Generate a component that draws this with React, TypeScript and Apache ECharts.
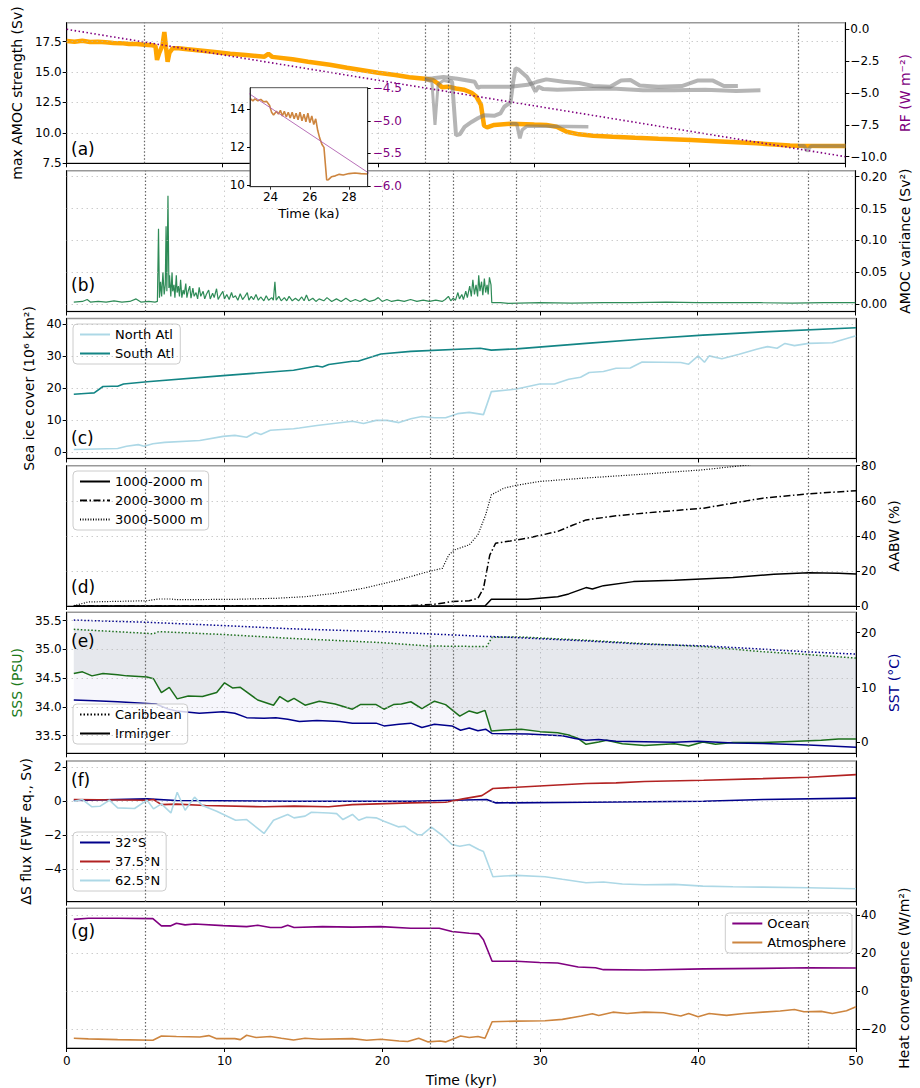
import React, { useEffect, useRef } from "react";
import * as echarts from "echarts";

// ---------------- DATA ----------------
const xTickValues = [0, 10, 20, 30, 40, 50];
const eventLines = [5, 23, 24.5, 28.5, 47];

// (a) AMOC strength (Sv)
const amocMain = [[0,17.55],[0.5,17.5],[1,17.58],[1.5,17.48],[2,17.5],[2.5,17.45],[3,17.4],[3.5,17.38],[4,17.3],[4.5,17.3],[5,17.25],[5.5,17.2],[5.7,17.15],[5.8,16.0],[5.95,16.6],[6.15,17.2],[6.27,18.3],[6.38,17.0],[6.48,15.85],[6.6,16.6],[6.8,16.95],[7.2,16.95],[7.6,16.9],[8.4,16.8],[9.5,16.65],[10.5,16.5],[11.5,16.4],[12.7,16.27],[12.95,16.5],[13.2,16.25],[14.5,16.05],[15.5,15.85],[16.9,15.6],[18,15.35],[19,15.15],[20,14.95],[21.1,14.76],[22,14.58],[23,14.45],[23.5,14.35],[23.8,14.1],[24.1,13.75],[24.5,13.8],[25,13.65],[25.5,13.55],[26,13.3],[26.3,13.0],[26.6,12.3],[26.8,10.6],[27.0,10.45],[27.45,10.65],[28.5,10.75],[30.0,10.68],[30.8,10.65],[31.46,10.5],[32.1,10.1],[32.9,9.88],[33.8,9.77],[35.05,9.69],[36.5,9.6],[38,9.52],[40.1,9.42],[42,9.3],[44.3,9.14],[46.45,8.97],[47,8.95],[48.5,8.93],[50,8.92]];
const grayA = [[23.0,14.45],[23.5,14.5],[24.2,14.6],[25.1,14.45],[26.2,14.2],[26.4,13.7],[26.6,13.8],[28.5,13.8],[29.6,13.95],[30.2,14.2],[30.8,14.4],[31.9,14.2],[32.9,14.1],[33.8,13.85],[34.9,13.8],[35.6,14.3],[36.2,14.35],[36.8,13.9],[38,13.8],[39.5,13.85],[40.5,14.3],[41.5,14.3],[42.2,13.85],[43.1,13.85]];
const grayB = [[23.0,14.4],[23.45,14.2],[23.65,10.65],[23.85,14.0],[24.2,14.3],[24.6,14.2]];
const grayC = [[24.5,14.3],[24.75,14.2],[25.0,9.8],[25.25,9.9],[25.55,10.5],[26.0,10.9],[26.4,11.2],[26.8,11.45],[27.45,11.4],[27.85,11.6],[28.1,12.15],[28.5,12.5],[28.67,14.2],[28.82,15.3],[29.03,15.2],[29.56,14.6],[29.87,13.95],[30.1,13.4],[30.3,13.8],[30.6,13.6],[31.5,13.55],[33,13.6],[35,13.65],[37,13.5],[39,13.5],[41,13.55],[43,13.45],[44.55,13.5]];
const grayD = [[28.5,10.75],[28.9,10.75],[29.1,9.55],[29.25,10.25],[29.56,10.55],[30.8,10.55],[33.5,10.5]];
const grayE = [[47,8.95],[47.35,8.95],[47.55,8.5],[47.8,8.92],[50,8.92]];
const rfLine = [[0,0],[50,-10]];
// inset (23-29 ka)
const amocInset = [[22.95,14.58],[23.1,14.45],[23.2,14.55],[23.35,14.45],[23.5,14.52],[23.65,14.4],[23.8,14.42],[23.95,14.2],[24.05,13.85],[24.15,13.7],[24.3,13.9],[24.4,13.75],[24.5,13.95],[24.6,13.65],[24.7,13.9],[24.8,13.6],[24.9,13.85],[25.0,13.55],[25.1,13.85],[25.2,13.5],[25.3,13.8],[25.4,13.45],[25.5,13.85],[25.6,13.4],[25.7,13.75],[25.8,13.35],[25.9,13.8],[26.0,13.3],[26.1,13.65],[26.2,13.2],[26.3,13.5],[26.4,12.9],[26.5,12.5],[26.62,12.15],[26.72,12.0],[26.86,10.28],[26.95,10.3],[27.1,10.45],[27.3,10.5],[27.5,10.58],[27.7,10.55],[28.0,10.62],[28.3,10.65],[28.6,10.62],[28.95,10.6]];

// (b) AMOC variance (Sv^2)
const amocVar = [[0.45,0.003],[1.0,0.004],[1.3,0.007],[1.5,0.003],[2.0,0.004],[2.5,0.003],[3.0,0.005],[3.5,0.003],[4.0,0.004],[4.4,0.008],[4.7,0.003],[5.2,0.004],[5.6,0.003],[5.75,0.004],[5.82,0.118],[5.88,0.01],[5.95,0.035],[6.02,0.012],[6.1,0.05],[6.18,0.015],[6.25,0.03],[6.3,0.122],[6.35,0.02],[6.42,0.17],[6.48,0.025],[6.52,0.045],[6.6,0.012],[6.68,0.05],[6.72,0.02],[6.8,0.03],[6.86,0.01],[6.95,0.045],[7.0,0.018],[7.08,0.028],[7.15,0.012],[7.22,0.038],[7.3,0.01],[7.38,0.022],[7.45,0.015],[7.55,0.032],[7.62,0.01],[7.7,0.02],[7.8,0.028],[7.88,0.009],[8.0,0.025],[8.08,0.012],[8.2,0.018],[8.3,0.008],[8.4,0.026],[8.5,0.012],[8.65,0.02],[8.75,0.008],[8.85,0.015],[9.0,0.022],[9.1,0.008],[9.25,0.017],[9.35,0.01],[9.5,0.024],[9.6,0.007],[9.75,0.014],[9.9,0.02],[10.0,0.008],[10.15,0.015],[10.3,0.007],[10.45,0.018],[10.55,0.01],[10.7,0.013],[10.85,0.006],[11.0,0.016],[11.15,0.007],[11.3,0.012],[11.45,0.018],[11.55,0.006],[11.7,0.012],[11.85,0.007],[12.0,0.015],[12.15,0.006],[12.3,0.011],[12.5,0.005],[12.65,0.013],[12.8,0.006],[13.0,0.01],[13.1,0.006],[13.2,0.035],[13.28,0.006],[13.45,0.012],[13.6,0.005],[13.8,0.01],[13.95,0.005],[14.1,0.012],[14.3,0.005],[14.5,0.009],[14.7,0.005],[14.9,0.011],[15.05,0.005],[15.2,0.014],[15.35,0.005],[15.6,0.009],[15.8,0.004],[16.0,0.008],[16.3,0.005],[16.5,0.01],[16.8,0.004],[17.1,0.008],[17.4,0.004],[17.7,0.009],[18.0,0.004],[18.3,0.007],[18.6,0.004],[18.9,0.008],[19.2,0.004],[19.5,0.006],[19.75,0.01],[20.0,0.004],[20.3,0.007],[20.6,0.004],[21.0,0.006],[21.4,0.004],[21.8,0.007],[22.2,0.004],[22.6,0.006],[23.0,0.004],[23.4,0.006],[23.8,0.004],[24.0,0.007],[24.2,0.012],[24.35,0.005],[24.5,0.009],[24.65,0.006],[24.8,0.018],[24.9,0.008],[25.05,0.015],[25.15,0.007],[25.3,0.02],[25.4,0.01],[25.55,0.028],[25.65,0.012],[25.75,0.038],[25.85,0.015],[25.95,0.03],[26.05,0.012],[26.12,0.045],[26.2,0.02],[26.3,0.035],[26.38,0.014],[26.48,0.04],[26.56,0.018],[26.65,0.03],[26.72,0.015],[26.8,0.042],[26.9,0.03],[26.95,0.002],[27.5,0.002],[28,0.001],[30,0.002],[32,0.0015],[34,0.002],[36,0.002],[38,0.003],[40,0.002],[42,0.002],[44,0.002],[46,0.0015],[48,0.002],[50,0.002]];

// (c) Sea ice cover (10^6 km^2)
const iceNorth = [[0.45,0.8],[3.23,1.1],[3.79,1.8],[4.53,2.3],[4.9,1.8],[5.46,2.6],[6.2,3.0],[8.43,3.6],[9.91,4.9],[10.65,5.2],[11.4,4.6],[11.95,6.1],[12.3,5.5],[12.9,6.8],[14.37,7.3],[14.74,7.5],[15.85,8.3],[18.1,9.6],[18.8,8.9],[19.6,9.9],[20.3,9.9],[21.05,9.2],[21.8,10.4],[22.5,11.1],[23.3,10.7],[24.0,10.7],[24.76,12.0],[25.5,12.4],[26.4,11.7],[26.9,18.9],[28.5,19.7],[29.96,21.3],[30.9,21.3],[31.8,22.8],[32.55,23.4],[33.1,24.9],[34.0,25.2],[34.8,26.2],[35.7,26.3],[36.45,28.2],[38.9,28.0],[39.4,27.5],[40.0,30.1],[40.4,28.1],[40.7,30.1],[41.5,29.2],[42.6,30.6],[43.7,32.2],[44.4,33.0],[45.0,32.5],[45.5,34.0],[46.1,33.3],[47.0,34.0],[48.5,34.2],[50,36.4]];
const iceSouth = [[0.45,18.1],[1.37,18.4],[1.74,18.5],[2.3,20.5],[2.86,20.6],[3.23,20.6],[3.6,21.3],[5.09,22.0],[9.91,23.9],[14.37,25.6],[15.85,26.9],[16.2,26.6],[16.6,27.4],[18.1,28.4],[18.45,28.4],[19.9,30.7],[21.8,31.5],[26.2,32.5],[26.9,31.9],[28.5,32.3],[32.9,34.0],[36.6,35.4],[40.3,36.6],[44.1,37.6],[50,38.9]];

// (d) AABW (%)
const aabw1 = [[0.45,0],[26.5,0],[26.9,3.8],[29.2,3.8],[31.1,5.3],[31.8,6.9],[32.9,10.5],[33.3,9.7],[34.0,11.6],[35.9,13.9],[38.5,14.7],[42.2,16.2],[44.8,18.1],[47,18.9],[48.9,18.7],[50,18.3]];
const aabw2 = [[0.45,0],[21.8,0.2],[23.3,1.0],[24.4,2.5],[25.5,3.0],[26.05,4.4],[26.4,10],[26.8,29],[27.17,35.8],[28.1,37.1],[29.2,38.7],[31.1,42.5],[32.0,45.9],[32.9,49.1],[34.8,51.4],[36.6,53],[40.35,55.8],[44.1,61.5],[47.0,64],[50,65.7]];
const aabw3 = [[0.45,0.2],[1.37,2.3],[5.09,3.0],[5.83,4.0],[6.6,4.0],[6.95,3.6],[10.65,3.8],[13.25,4.4],[15.1,5.3],[16.96,7.2],[18.8,10.1],[21.05,14.9],[22.9,19.6],[23.8,21.5],[24.2,29.1],[24.57,32.0],[25.5,34.9],[26.05,40.6],[26.54,52],[26.9,63.4],[27.7,67.2],[28.47,68.8],[29.96,71],[31.4,72],[32.9,73],[36.6,75.2],[40.35,77.7],[42.95,80.2],[44.5,82],[47,84],[50,86]];

// (e) SSS (PSU) and SST (degC)
const sssCarib = [[0.45,35.35],[5.09,35.28],[5.46,35.27],[5.83,35.31],[9.91,35.26],[14.37,35.19],[19.9,35.12],[22.9,35.06],[26.6,35.05],[26.95,35.21],[28.5,35.22],[32.9,35.16],[36.6,35.1],[40.35,35.05],[44.1,34.96],[47,34.91],[50,34.85]];
const sstCarib = [[0.45,22.3],[5.09,21.9],[9.91,21.3],[14.37,20.7],[19.9,20.2],[23.65,19.7],[26.6,19.3],[26.95,19.3],[28.5,19.1],[32.9,18.5],[36.6,17.9],[40.35,17.6],[44.1,17.0],[47,16.5],[50,16.1]];
const sssIrm = [[0.45,34.58],[1.0,34.61],[1.6,34.54],[2.3,34.58],[3.23,34.56],[3.8,34.54],[5.09,34.52],[5.5,34.49],[6.0,34.25],[6.5,34.34],[7.0,34.14],[7.7,34.19],[8.6,34.18],[9.5,34.25],[10.0,34.42],[10.5,34.33],[11.0,34.34],[12.1,34.12],[13.1,34.03],[13.5,34.18],[14.0,34.09],[14.4,34.15],[15.1,34.03],[16.0,34.1],[17.0,34.05],[18.1,33.96],[18.6,34.04],[19.6,34.04],[20.1,33.96],[20.7,34.04],[21.2,34.05],[21.8,34.09],[22.5,33.97],[23.3,34.1],[24.0,34.04],[24.9,33.84],[25.5,33.93],[26.0,33.89],[26.5,33.94],[26.9,33.58],[27.7,33.6],[28.8,33.61],[30.0,33.57],[31.1,33.55],[31.8,33.51],[32.4,33.45],[32.9,33.35],[33.7,33.39],[34.2,33.42],[35.2,33.36],[36.6,33.33],[38.5,33.36],[39.4,33.32],[40.3,33.39],[41.1,33.35],[42.2,33.38],[44.1,33.38],[45.9,33.4],[47.8,33.42],[48.9,33.44],[50,33.44]];
const sstIrm = [[0.45,7.7],[1.75,7.6],[3.23,7.4],[5.09,7.1],[5.65,7.0],[6.4,6.1],[6.95,5.7],[8.4,5.3],[9.91,5.6],[10.65,5.3],[11.4,4.5],[12.5,4.4],[13.25,4.5],[14.0,4.2],[14.74,3.8],[15.85,4.0],[17.3,3.8],[18.1,3.5],[19.6,3.5],[20.1,3.0],[21.05,3.3],[21.8,3.5],[22.5,2.7],[23.3,3.3],[24.4,3.0],[24.95,2.2],[25.5,2.6],[26.05,2.1],[26.54,2.4],[26.95,1.6],[29.2,1.5],[31.4,1.2],[32.2,0.7],[32.9,0.4],[33.7,0.5],[34.8,0.2],[36.6,0.1],[38.5,0.0],[40,0.2],[42.2,-0.1],[44.1,-0.2],[47,-0.5],[50,-0.9]];

// (f) Delta S flux (FWF eq., Sv)
const flux32S = [[0.45,0.04],[5.09,0.14],[6.95,0.04],[14.37,0],[21.8,0],[26.6,0.1],[27.2,-0.1],[32.9,-0.06],[40.35,0],[44.1,0.1],[50,0.18]];
const flux375N = [[0.45,0.1],[5.09,0.06],[5.5,0.1],[6.0,-0.2],[6.95,-0.17],[8.8,-0.25],[12.5,-0.33],[14.4,-0.29],[16.6,-0.33],[18.1,-0.2],[21.8,-0.1],[24.0,-0.06],[25.1,0.14],[26.3,0.33],[27.0,0.75],[28.5,0.82],[31.1,0.96],[32.9,1.04],[34.8,1.08],[36.6,1.16],[40.35,1.24],[44.1,1.33],[47,1.41],[50,1.57]];
const flux625N = [[0.45,0],[1.0,0.1],[1.6,-0.33],[2.1,-0.3],[2.7,0.06],[3.23,-0.39],[4.3,-0.43],[5.09,0.06],[5.5,-0.45],[6.0,-0.16],[6.6,-0.69],[7.0,0.53],[7.5,-0.53],[8.1,0.24],[8.6,-0.25],[9.5,-0.59],[10.7,-1.12],[11.4,-1.08],[12.5,-1.9],[13.1,-1.12],[14.0,-0.78],[14.4,-0.98],[15.1,-0.88],[15.5,-0.65],[16.6,-0.69],[17.1,-0.73],[17.5,-1.08],[18.1,-0.78],[18.5,-1.12],[19.0,-0.94],[19.6,-0.98],[20.1,-1.18],[21.0,-1.51],[21.4,-1.47],[21.8,-1.73],[22.2,-1.96],[22.5,-1.98],[23.1,-1.53],[23.8,-2.02],[24.4,-2.55],[24.9,-2.65],[25.5,-2.55],[26.1,-2.84],[26.4,-2.96],[27.0,-4.45],[27.7,-4.41],[28.5,-4.37],[30.3,-4.45],[31.4,-4.6],[32.9,-4.8],[34.0,-4.76],[35.2,-4.88],[36.6,-4.92],[38.5,-4.9],[40.3,-5.0],[42.2,-5.04],[44.1,-5.06],[47,-5.1],[50,-5.16]];

// (g) Heat convergence (W/m^2)
const heatOcean = [[0.45,37.7],[1.37,38.3],[3.23,38.3],[5.46,38.1],[6.0,34.3],[6.6,34.3],[6.95,35.7],[7.5,34.8],[8.1,35.3],[9.91,34.4],[11.4,33.9],[12.1,34.6],[12.9,33.4],[13.6,33.4],[14.0,34.6],[14.4,33.4],[16.2,33.9],[18.1,33.6],[19.9,33.9],[21.8,33.0],[23.6,33.0],[24.4,31.3],[25.5,30.4],[26.1,30.1],[26.4,27.0],[26.95,15.7],[28.5,15.7],[29.96,15.1],[31.1,14.8],[32.4,12.7],[33.5,12.3],[34.0,11.3],[36.6,11.1],[40.35,11.7],[44.1,12.0],[47,12.3],[50,12.2]];
const heatAtmos = [[0.45,-24.7],[1.37,-25],[3.23,-25.4],[5.46,-25.7],[6.0,-23.5],[6.95,-23.8],[8.43,-24],[9.0,-23.3],[9.5,-24.9],[10.65,-24.9],[11.0,-25.4],[11.4,-23.1],[12.0,-24.3],[12.9,-23.8],[13.6,-24.7],[14.37,-25.6],[15.1,-24.7],[16.0,-25.2],[17.3,-25.0],[18.1,-24.9],[19.0,-25.7],[19.9,-25.2],[21.05,-26.1],[21.6,-26.4],[22.3,-24.7],[22.9,-26.6],[23.65,-26.1],[24.0,-26.6],[24.95,-23.5],[25.5,-24.3],[26.05,-23.8],[26.5,-24.7],[26.95,-16],[28.5,-15.7],[30.3,-15.5],[31.4,-14.8],[32.6,-13],[33.3,-11.8],[33.7,-12.7],[34.6,-11.0],[35.5,-11.7],[36.6,-11],[37.8,-11.3],[38.9,-13],[39.4,-11.7],[40.0,-13.4],[40.7,-11.7],[41.8,-12.7],[42.9,-11.7],[44.1,-11],[45.2,-10.4],[46.1,-9.6],[46.7,-10.8],[47.8,-10.6],[48.5,-11.7],[49.4,-10.3],[50,-8.2]];

// tick labels per axis
const ticksA_L = [7.5, 10, 12.5, 15, 17.5];
const ticksA_R = [0, -2.5, -5, -7.5, -10];
const ticksB_R = [0, 0.05, 0.1, 0.15, 0.2];
const ticksC_L = [0, 10, 20, 30, 40];
const ticksD_R = [0, 20, 40, 60, 80];
const ticksE_L = [33.5, 34, 34.5, 35, 35.5];
const ticksE_R = [0, 10, 20];
const ticksF_L = [-4, -2, 0, 2];
const ticksG_R = [-20, 0, 20, 40];
const ticksInsetX = [24, 26, 28];
const ticksInsetL = [10, 12, 14];
const ticksInsetR = [-6, -5.5, -5, -4.5];

const panelLetters = ["(a)", "(b)", "(c)", "(d)", "(e)", "(f)", "(g)"];

// ---------------- LAYOUT / STYLE ----------------
const FONT = "DejaVu Sans";
const GL = 66.7;
const GW = 789.3;
const panels = [
  { top: 22.7, height: 140.6 },
  { top: 170.7, height: 140.8 },
  { top: 318.5, height: 140 },
  { top: 465.7, height: 140.3 },
  { top: 612.3, height: 141 },
  { top: 761, height: 140.7 },
  { top: 908.3, height: 140.4 },
];
const labelTops = [140, 276, 429, 578, 632, 771, 922];

const minus = (s: string) => s.replace("-", "\u2212");
const fmt = (d: number) => (v: number) => minus(Number(v).toFixed(d));

const yAx = (
  gridIndex: number, position: string, min: number, max: number,
  ticks: number[] | null, dec: number, name = "", nameGap = 40, nameColor = "#000"
) => ({
  type: "value", gridIndex, position, min, max,
  axisLine: { show: true, onZero: false, lineStyle: { color: "#000", width: 1 } },
  axisTick: ticks ? { show: true, customValues: ticks, length: 4, lineStyle: { color: "#000" } } : { show: false },
  axisLabel: ticks ? { show: true, customValues: ticks, formatter: fmt(dec), fontSize: 12, color: "#000", margin: 5, fontFamily: FONT } : { show: false },
  splitLine: { show: false },
  name, nameLocation: "middle", nameGap, nameRotate: 90,
  nameTextStyle: { fontSize: 14, color: nameColor, fontFamily: FONT },
});

const line = (name: string, data: number[][], xi: number, yi: number, color: string, width: number, type: any = "solid", extra: any = {}) => ({
  type: "line", name, data, xAxisIndex: xi, yAxisIndex: yi, symbol: "none", showSymbol: false,
  lineStyle: { color, width, type }, itemStyle: { color }, silent: true, z: 3, clip: true, ...extra,
});

const gridStyle = { color: "#b5b5b5", type: [1, 4], width: 1 };
const eventStyle = { color: "#666", type: [1.5, 2], width: 1.2 };

const guides = (pi: number, yi: number, yVals: number[], anchorY: number, z = 2, xVals: number[] = eventLines, xStyle: any = eventStyle) => ({
  type: "line", name: "_guide" + pi, data: [[xVals[0], anchorY]], xAxisIndex: pi, yAxisIndex: yi,
  symbol: "none", showSymbol: false, lineStyle: { opacity: 0 }, silent: true, z,
  markLine: {
    symbol: ["none", "none"], silent: true, animation: false, label: { show: false },
    emphasis: { disabled: true },
    data: [
      ...yVals.map((v) => ({ yAxis: v, lineStyle: gridStyle })),
      ...xVals.map((v) => ({ xAxis: v, lineStyle: xStyle })),
    ],
  },
});

const band = (upper: number[][], lower: number[][], xi: number, yi: number, fill: string) => ({
  type: "custom", xAxisIndex: xi, yAxisIndex: yi, silent: true, z: 1,
  data: [[upper[0][0], upper[0][1]]],
  renderItem: (_p: any, api: any) => {
    const pts = upper.map((p) => api.coord(p)).concat(lower.slice().reverse().map((p) => api.coord(p)));
    return { type: "polygon", shape: { points: pts }, style: { fill } };
  },
});

const legendBox = (names: string[], pos: any) => ({
  data: names, orient: "vertical", ...pos,
  backgroundColor: "rgba(255,255,255,0.8)", borderColor: "#cccccc", borderWidth: 1, borderRadius: 4,
  padding: [4, 6, 4, 6], itemGap: 6, itemWidth: 30, itemHeight: 13,
  itemStyle: { opacity: 0, borderWidth: 0 },
  textStyle: { fontSize: 13, color: "#000", fontFamily: FONT }, selectedMode: false,
});

function buildOption() {
  const grids: any[] = panels.map((p) => ({
    left: GL, top: p.top, width: GW, height: p.height, show: true,
    borderColor: "#999", borderWidth: 1.5, backgroundColor: "transparent",
  }));
  grids.push({ left: 250, top: 87.7, width: 117.7, height: 99, show: true, backgroundColor: "#fff", borderColor: "#555", borderWidth: 1, z: 10 });

  const xAxes: any[] = panels.map((_, i) => ({
    type: "value", gridIndex: i, min: xTickValues[0], max: xTickValues[xTickValues.length - 1], interval: 10,
    axisLine: { show: true, onZero: false, lineStyle: { color: "#000" } },
    axisTick: { show: true, length: 4, lineStyle: { color: "#000" } },
    axisLabel: { show: i === 6, fontSize: 12, color: "#000", margin: 7, fontFamily: FONT },
    splitLine: { show: true, lineStyle: gridStyle },
    name: i === 6 ? "Time (kyr)" : "", nameLocation: "middle", nameGap: 25,
    nameTextStyle: { fontSize: 14, color: "#000", fontFamily: FONT },
  }));
  xAxes.push({
    type: "value", gridIndex: 7, min: 22.95, max: 28.95, z: 12,
    axisLine: { show: true, onZero: false, lineStyle: { color: "#333" } },
    axisTick: { show: true, customValues: ticksInsetX, length: 3 },
    axisLabel: { show: true, customValues: ticksInsetX, fontSize: 12, color: "#000", margin: 4, fontFamily: FONT },
    splitLine: { show: false },
    name: "Time (ka)", nameLocation: "middle", nameGap: 20, nameTextStyle: { fontSize: 13, color: "#000", fontFamily: FONT },
  });

  const yAxes: any[] = [
    yAx(0, "left", 7.5, 19.06, ticksA_L, 1, "max AMOC strength (Sv)", 42),
    yAx(0, "right", -10.52, 0.52, ticksA_R, 1, "RF (W m\u207B\u00B2)", 50, "#800080"),
    yAx(1, "left", 0, 1, null, 0),
    yAx(1, "right", -0.0118, 0.2094, ticksB_R, 2, "AMOC variance (Sv\u00B2)", 41),
    yAx(2, "left", -2.04, 41.8, ticksC_L, 0, "Sea ice cover (10\u2076 km\u00B2)", 30),
    yAx(2, "right", 0, 1, null, 0),
    yAx(3, "left", 0, 1, null, 0),
    yAx(3, "right", 0, 80, ticksD_R, 0, "AABW (%)", 20),
    yAx(4, "left", 33.193, 35.646, ticksE_L, 1, "SSS (PSU)", 43, "#1b7a1b"),
    yAx(4, "right", -2.0, 23.72, ticksE_R, 0, "SST (\u00B0C)", 26, "#00008B"),
    yAx(5, "left", -5.92, 2.37, ticksF_L, 0, "\u0394S flux (FWF eq., Sv)", 31),
    yAx(5, "right", 0, 1, null, 0),
    yAx(6, "left", 0, 1, null, 0),
    yAx(6, "right", -29.8, 43.5, ticksG_R, 0, "Heat convergence (W/m\u00B2)", 41),
  ];
  const inL: any = yAx(7, "left", 9.93, 15.14, ticksInsetL, 0);
  inL.z = 12; inL.axisLine.lineStyle.color = "#333"; inL.axisTick.length = 3;
  const inR: any = yAx(7, "right", -6.01, -4.49, ticksInsetR, 1);
  inR.z = 12; inR.axisLine.lineStyle.color = "#333"; inR.axisTick.length = 3; inR.axisLabel.color = "#800080";
  yAxes.push(inL, inR);

  const series: any[] = [
    // (a)
    guides(0, 0, [10, 12.5, 15, 17.5], 10),
    line("amoc", amocMain, 0, 0, "#FFA500", 4.5),
    line("grayA", grayA, 0, 0, "rgba(120,120,120,0.55)", 4),
    line("grayB", grayB, 0, 0, "rgba(120,120,120,0.55)", 3),
    line("grayC", grayC, 0, 0, "rgba(120,120,120,0.55)", 4),
    line("grayD", grayD, 0, 0, "rgba(120,120,120,0.55)", 3.5),
    line("grayE", grayE, 0, 0, "rgba(120,120,120,0.55)", 3.5),
    line("RF", rfLine, 0, 1, "#800080", 1.6, [1.5, 2.5], { z: 4 }),
    // (b)
    guides(1, 3, [0, 0.05, 0.1, 0.15, 0.2], 0),
    line("variance", amocVar, 1, 3, "#2E8B57", 1.2),
    // (c)
    guides(2, 4, [0, 10, 20, 30, 40], 0),
    line("North Atl", iceNorth, 2, 4, "#ADD8E6", 1.6),
    line("South Atl", iceSouth, 2, 4, "#138585", 1.6),
    // (d)
    guides(3, 7, [20, 40, 60], 0),
    line("1000-2000 m", aabw1, 3, 7, "#000", 1.5),
    line("2000-3000 m", aabw2, 3, 7, "#000", 1.5, [7, 2.5, 1.5, 2.5]),
    line("3000-5000 m", aabw3, 3, 7, "#000", 1.2, [1, 1.6]),
    // (e)
    band(sssCarib, sssIrm, 4, 8, "rgba(90,110,115,0.10)"),
    band(sstCarib, sstIrm, 4, 9, "rgba(120,120,200,0.065)"),
    guides(4, 8, [33.5, 34, 34.5, 35, 35.5], 34),
    line("SSS Caribbean", sssCarib, 4, 8, "#1b6e1b", 1.5, [1.5, 2]),
    line("SSS Irminger", sssIrm, 4, 8, "#1b6e1b", 1.5),
    line("SST Caribbean", sstCarib, 4, 9, "#00008B", 1.5, [1.5, 2]),
    line("SST Irminger", sstIrm, 4, 9, "#00008B", 1.5),
    line("Caribbean", [], 4, 8, "#000", 1.3, [1.5, 2]),
    line("Irminger", [], 4, 8, "#000", 1.6),
    // (f)
    guides(5, 10, [-4, -2, 0, 2], 0),
    line("32\u00B0S", flux32S, 5, 10, "#00008B", 1.6),
    line("37.5\u00B0N", flux375N, 5, 10, "#B22222", 1.6),
    line("62.5\u00B0N", flux625N, 5, 10, "#ADD8E6", 1.6),
    // (g)
    guides(6, 13, [-20, 0, 20, 40], 0),
    line("Ocean", heatOcean, 6, 13, "#800080", 1.6),
    line("Atmosphere", heatAtmos, 6, 13, "#CD853F", 1.6),
    // inset
    guides(7, 14, [12, 14], 12, 11, ticksInsetX, gridStyle),
    line("amocInset", amocInset, 7, 14, "#CD853F", 1.6, "solid", { z: 11 }),
    line("RFinset", rfLine, 7, 15, "#B060B0", 0.9, "solid", { z: 11 }),
  ];

  const legend = [
    legendBox(["North Atl", "South Atl"], { left: 73, top: 324, itemGap: 8 }),
    legendBox(["1000-2000 m", "2000-3000 m", "3000-5000 m"], { left: 73, top: 471 }),
    legendBox(["Caribbean", "Irminger"], { left: 73, top: 704 }),
    legendBox(["32\u00B0S", "37.5\u00B0N", "62.5\u00B0N"], { left: 73, top: 832 }),
    legendBox(["Ocean", "Atmosphere"], { right: 68, top: 913 }),
  ];

  const graphic = panelLetters.map((s, i) => ({
    type: "text", left: 71, top: labelTops[i], z: 100,
    style: { text: s, fontSize: 17, fill: "#000", fontFamily: FONT },
  }));

  return {
    animation: false,
    backgroundColor: "#fff",
    textStyle: { fontFamily: FONT },
    grid: grids, xAxis: xAxes, yAxis: yAxes, series, legend, graphic,
  };
}

export default function App() {
  const ref = useRef<HTMLDivElement>(null);
  useEffect(() => {
    if (!ref.current) return;
    const chart = echarts.init(ref.current, null, { renderer: "svg" });
    chart.setOption(buildOption() as any);
    return () => chart.dispose();
  }, []);
  return (
    <div
      ref={ref}
      style={{ position: "absolute", left: 0, top: 0, width: 920, height: 1088, background: "#fff" }}
    />
  );
}
